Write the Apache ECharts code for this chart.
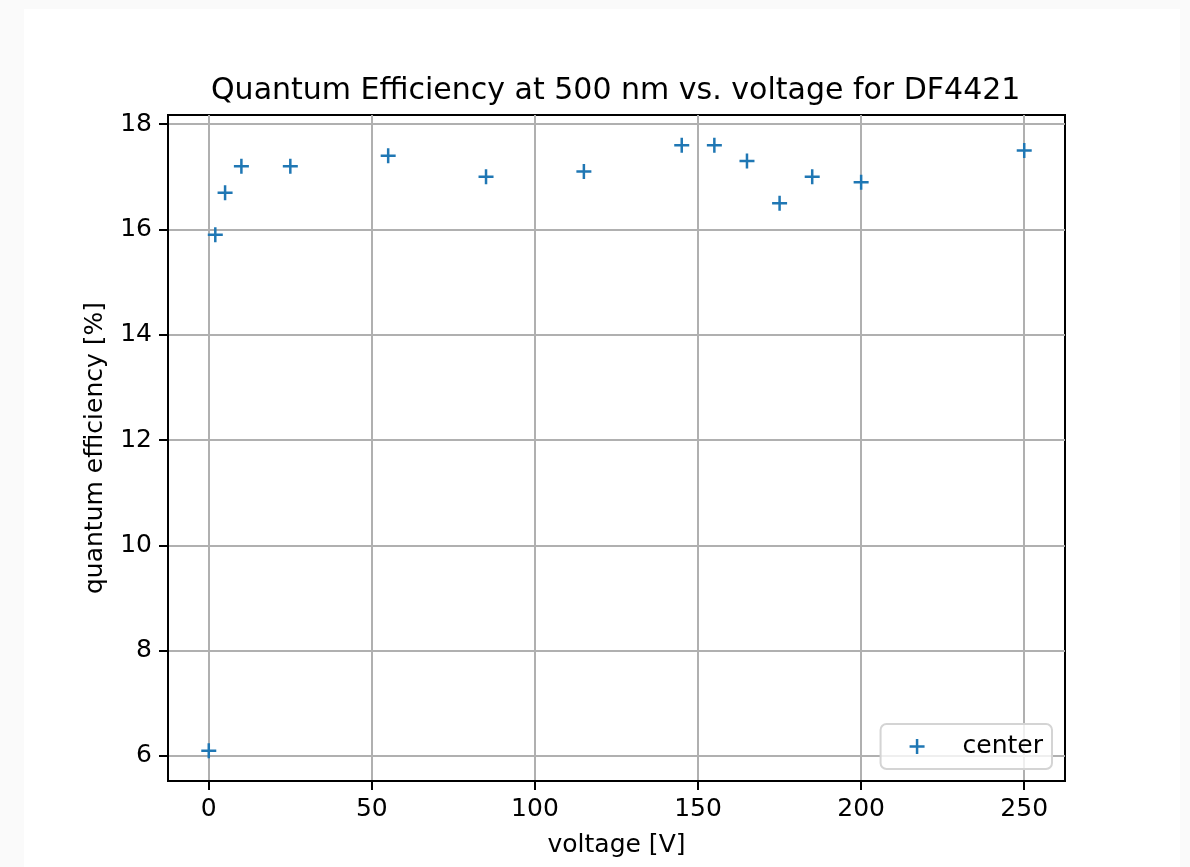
<!DOCTYPE html>
<html>
<head>
<meta charset="utf-8">
<script src="https://cdn.jsdelivr.net/npm/echarts@6/dist/echarts.min.js"></script>
<style>
  html, body { margin: 0; padding: 0; background: #fafafa; width: 1190px; height: 867px; overflow: hidden; }
  #chart { position: absolute; left: 24px; top: 9px; width: 1156px; height: 858px; background: #ffffff; }
</style>
</head>
<body>
<div id="chart"></div>
<script>
const voltage = [0, 2, 5, 10, 25, 55, 85, 115, 145, 155, 165, 175, 185, 200, 250];
const efficiency = [6.1, 15.9, 16.7, 17.2, 17.2, 17.4, 17.0, 17.1, 17.6, 17.6, 17.3, 16.5, 17.0, 16.9, 17.5];
const xTicks = [0, 50, 100, 150, 200, 250];
const yTicks = [6, 8, 10, 12, 14, 16, 18];
const seriesName = 'center';

const plusPath = 'path://M2.5,0 H3.5 V2.5 H6 V3.5 H3.5 V6 H2.5 V3.5 H0 V2.5 H2.5 Z';
const font = 'DejaVu Sans';

const chart = echarts.init(document.getElementById('chart'), null, { renderer: 'canvas' });
chart.setOption({
  animation: false,
  backgroundColor: '#ffffff',
  title: {
    text: 'Quantum Efficiency at 500 nm vs. voltage for DF4421',
    left: 182,
    top: 62,
    textStyle: { fontFamily: font, fontSize: 30, fontWeight: 'normal', color: '#000' }
  },
  grid: {
    left: 144, top: 106, right: 115, bottom: 86,
    show: true, borderColor: '#000', borderWidth: 2, containLabel: false
  },
  legend: {
    data: [seriesName],
    right: 128, bottom: 98,
    orient: 'vertical',
    icon: plusPath,
    itemWidth: 15, itemHeight: 15,
    padding: [10, 9, 10, 29],
    backgroundColor: 'rgba(255,255,255,0.8)',
    borderColor: '#d4d4d4', borderWidth: 2, borderRadius: 6,
    textStyle: { fontFamily: font, fontSize: 25, color: '#000', padding: [0, 0, 0, 33] }
  },
  xAxis: {
    type: 'value',
    min: -12.5, max: 262.5,
    splitNumber: 5,
    name: 'voltage [V]',
    nameLocation: 'middle',
    nameGap: 52,
    nameTextStyle: { fontFamily: font, fontSize: 25, color: '#000' },
    axisLine: { show: true, onZero: false, lineStyle: { color: '#000', width: 2 } },
    axisTick: { show: true, length: 9, lineStyle: { color: '#000', width: 2 }, customValues: xTicks },
    axisLabel: { fontFamily: font, fontSize: 25, color: '#000', margin: 16, customValues: xTicks },
    splitLine: { show: true, lineStyle: { color: '#b0b0b0', width: 2 } }
  },
  yAxis: {
    type: 'value',
    min: 5.525, max: 18.175,
    splitNumber: 6,
    name: 'quantum efficiency [%]',
    nameLocation: 'middle',
    nameRotate: 90,
    nameGap: 60,
    nameTextStyle: { fontFamily: font, fontSize: 25, color: '#000' },
    axisLine: { show: true, onZero: false, lineStyle: { color: '#000', width: 2 } },
    axisTick: { show: true, length: 9, lineStyle: { color: '#000', width: 2 }, customValues: yTicks },
    axisLabel: { fontFamily: font, fontSize: 25, color: '#000', margin: 16, customValues: yTicks },
    splitLine: { show: true, lineStyle: { color: '#b0b0b0', width: 2 } }
  },
  series: [{
    name: seriesName,
    type: 'scatter',
    symbol: plusPath,
    symbolSize: 15,
    itemStyle: { color: '#1f77b4', opacity: 1 },
    data: voltage.map((v, i) => [v, efficiency[i]]),
    z: 5
  }]
});
</script>
</body>
</html>
